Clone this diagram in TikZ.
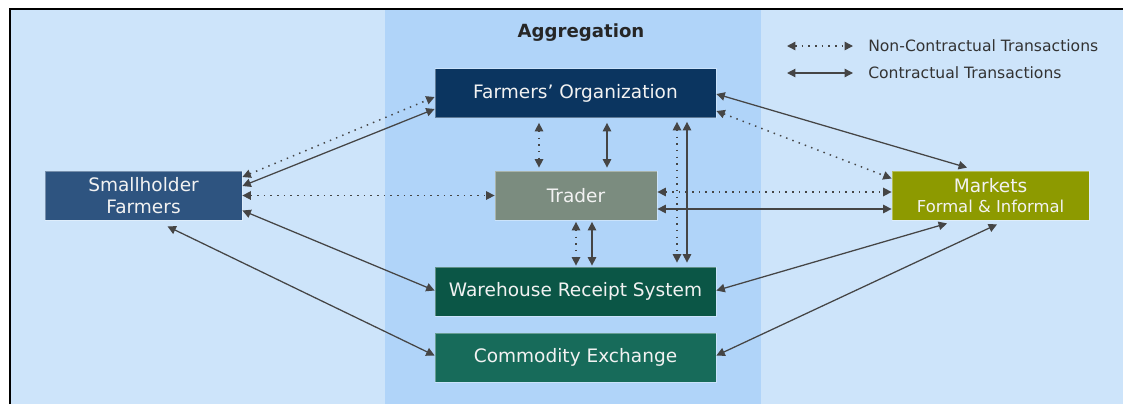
\documentclass[tikz,border=0pt]{standalone}
\usepackage{fontspec}
\setmainfont{DejaVu Sans}
\usetikzlibrary{arrows.meta,calc}
\definecolor{bgout}{HTML}{CDE4FA}
\definecolor{bgmid}{HTML}{B0D4F9}
\definecolor{cfo}{HTML}{0B3560}
\definecolor{csf}{HTML}{2E5480}
\definecolor{ctr}{HTML}{7B8C7F}
\definecolor{cmk}{HTML}{8D9A00}
\definecolor{cwrs}{HTML}{0B5646}
\definecolor{cce}{HTML}{176B5A}
\definecolor{arr}{HTML}{454545}
\definecolor{txt}{HTML}{F2F2F2}
\begin{document}
\begin{tikzpicture}[x=0.75pt,y=-0.75pt,
  box/.style={draw=white, draw opacity=0.35, line width=0.6pt, text=txt,
    font=\fontsize{13.9}{16}\selectfont, inner sep=0pt, align=center,
    minimum height=36.75pt},
  con/.style={{Triangle[length=6.3pt,width=6.3pt]}-{Triangle[length=6.3pt,width=6.3pt]},
    line width=0.95pt, draw=arr},
  noncon/.style={con, line width=1.1pt, dash pattern=on 1.1pt off 3.9pt},
  legtxt/.style={anchor=west, inner sep=0pt, text=black!80,
    font=\fontsize{11.7}{14}\selectfont}
]
\useasboundingbox (0,0) rectangle (1123,404);
\fill[white] (0,0) rectangle (1123,404);
\fill[bgout] (10,9) rectangle (1123,404);
\fill[bgmid] (385,9) rectangle (761,404);
\draw[black, line width=1.5pt] (10,404) -- (10,9) -- (1123,9);

\node[font=\bfseries\fontsize{13.6}{16}\selectfont, text=black!85] (agg) at (581,33) {Aggregation};

% nodes
\node[box, fill=cfo, minimum width=210.75pt] (fo) at (575.5,93) {Farmers’ Organization};
\node[box, fill=csf, minimum width=147.75pt] (sf) at (143.5,195.5) {Smallholder\\Farmers};
\node[box, fill=ctr, minimum width=121.5pt] (tr) at (576,195.5) {Trader};
\node[box, fill=cmk, minimum width=147.75pt] (mk) at (990.5,195.5) {Markets\\[-1pt]{\fontsize{12.3}{14}\selectfont Formal \& Informal}};
\node[box, fill=cwrs, minimum width=210.75pt] (wrs) at (575.5,291.5) {Warehouse Receipt System};
\node[box, fill=cce, minimum width=210.75pt] (ce) at (575.5,357.5) {Commodity Exchange};

% legend
\coordinate (l1a) at (787,46);
\coordinate (l1b) at (853,46);
\coordinate (l2a) at (787,73);
\coordinate (l2b) at (853,73);
\draw[noncon] (l1a) -- (l1b);
\draw[con] (l2a) -- (l2b);
\node[legtxt] (lt1) at (868,46) {Non-Contractual Transactions};
\node[legtxt] (lt2) at (868,73) {Contractual Transactions};

% Smallholder connectors
\draw[noncon] ($(sf.east)+(0,-18.5)$) -- ($(fo.west)+(0,4)$);
\draw[con] ($(sf.east)+(0,-9.5)$) -- ($(fo.west)+(0,16)$);
\draw[noncon] (sf.east) -- (tr.west);
\draw[con] ($(sf.east)+(0,15)$) -- ($(wrs.west)+(0,-1)$);
\draw[con] ($(sf.south)+(24,6)$) -- ($(ce.west)+(0,-2)$);

% Farmers' Organization - Trader
\draw[noncon] ($(fo.south)+(-36.5,5)$) -- ($(tr.north)+(-37,-3)$);
\draw[con] ($(fo.south)+(31.5,5)$) -- ($(tr.north)+(31,-3)$);
% Farmers' Organization - WRS
\draw[noncon] ($(fo.south)+(101.5,4)$) -- ($(wrs.north)+(101.5,-4)$);
\draw[con] ($(fo.south)+(111.5,4)$) -- ($(wrs.north)+(111.5,-4)$);
% Trader - WRS
\draw[noncon] ($(tr.south)+(0,1.5)$) -- ($(wrs.north)+(0.5,-1)$);
\draw[con] ($(tr.south)+(16,1.5)$) -- ($(wrs.north)+(16.5,-1)$);
% Trader - Markets
\draw[noncon] ($(tr.east)+(0,-3.5)$) -- ($(mk.west)+(0,-3.5)$);
\draw[con] ($(tr.east)+(0,13.5)$) -- ($(mk.west)+(0,13.5)$);
% FO - Markets
\draw[con] ($(fo.east)+(0,1)$) -- ($(mk.north)+(-23.5,-3)$);
\draw[noncon] ($(fo.east)+(0,18)$) -- ($(mk.west)+(0,-17)$);
% WRS / CE - Markets
\draw[con] ($(wrs.east)+(0,-1)$) -- ($(mk.south)+(-43.5,3)$);
\draw[con] ($(ce.east)+(0,-2)$) -- ($(mk.south)+(6.5,4)$);
\end{tikzpicture}
\end{document}
